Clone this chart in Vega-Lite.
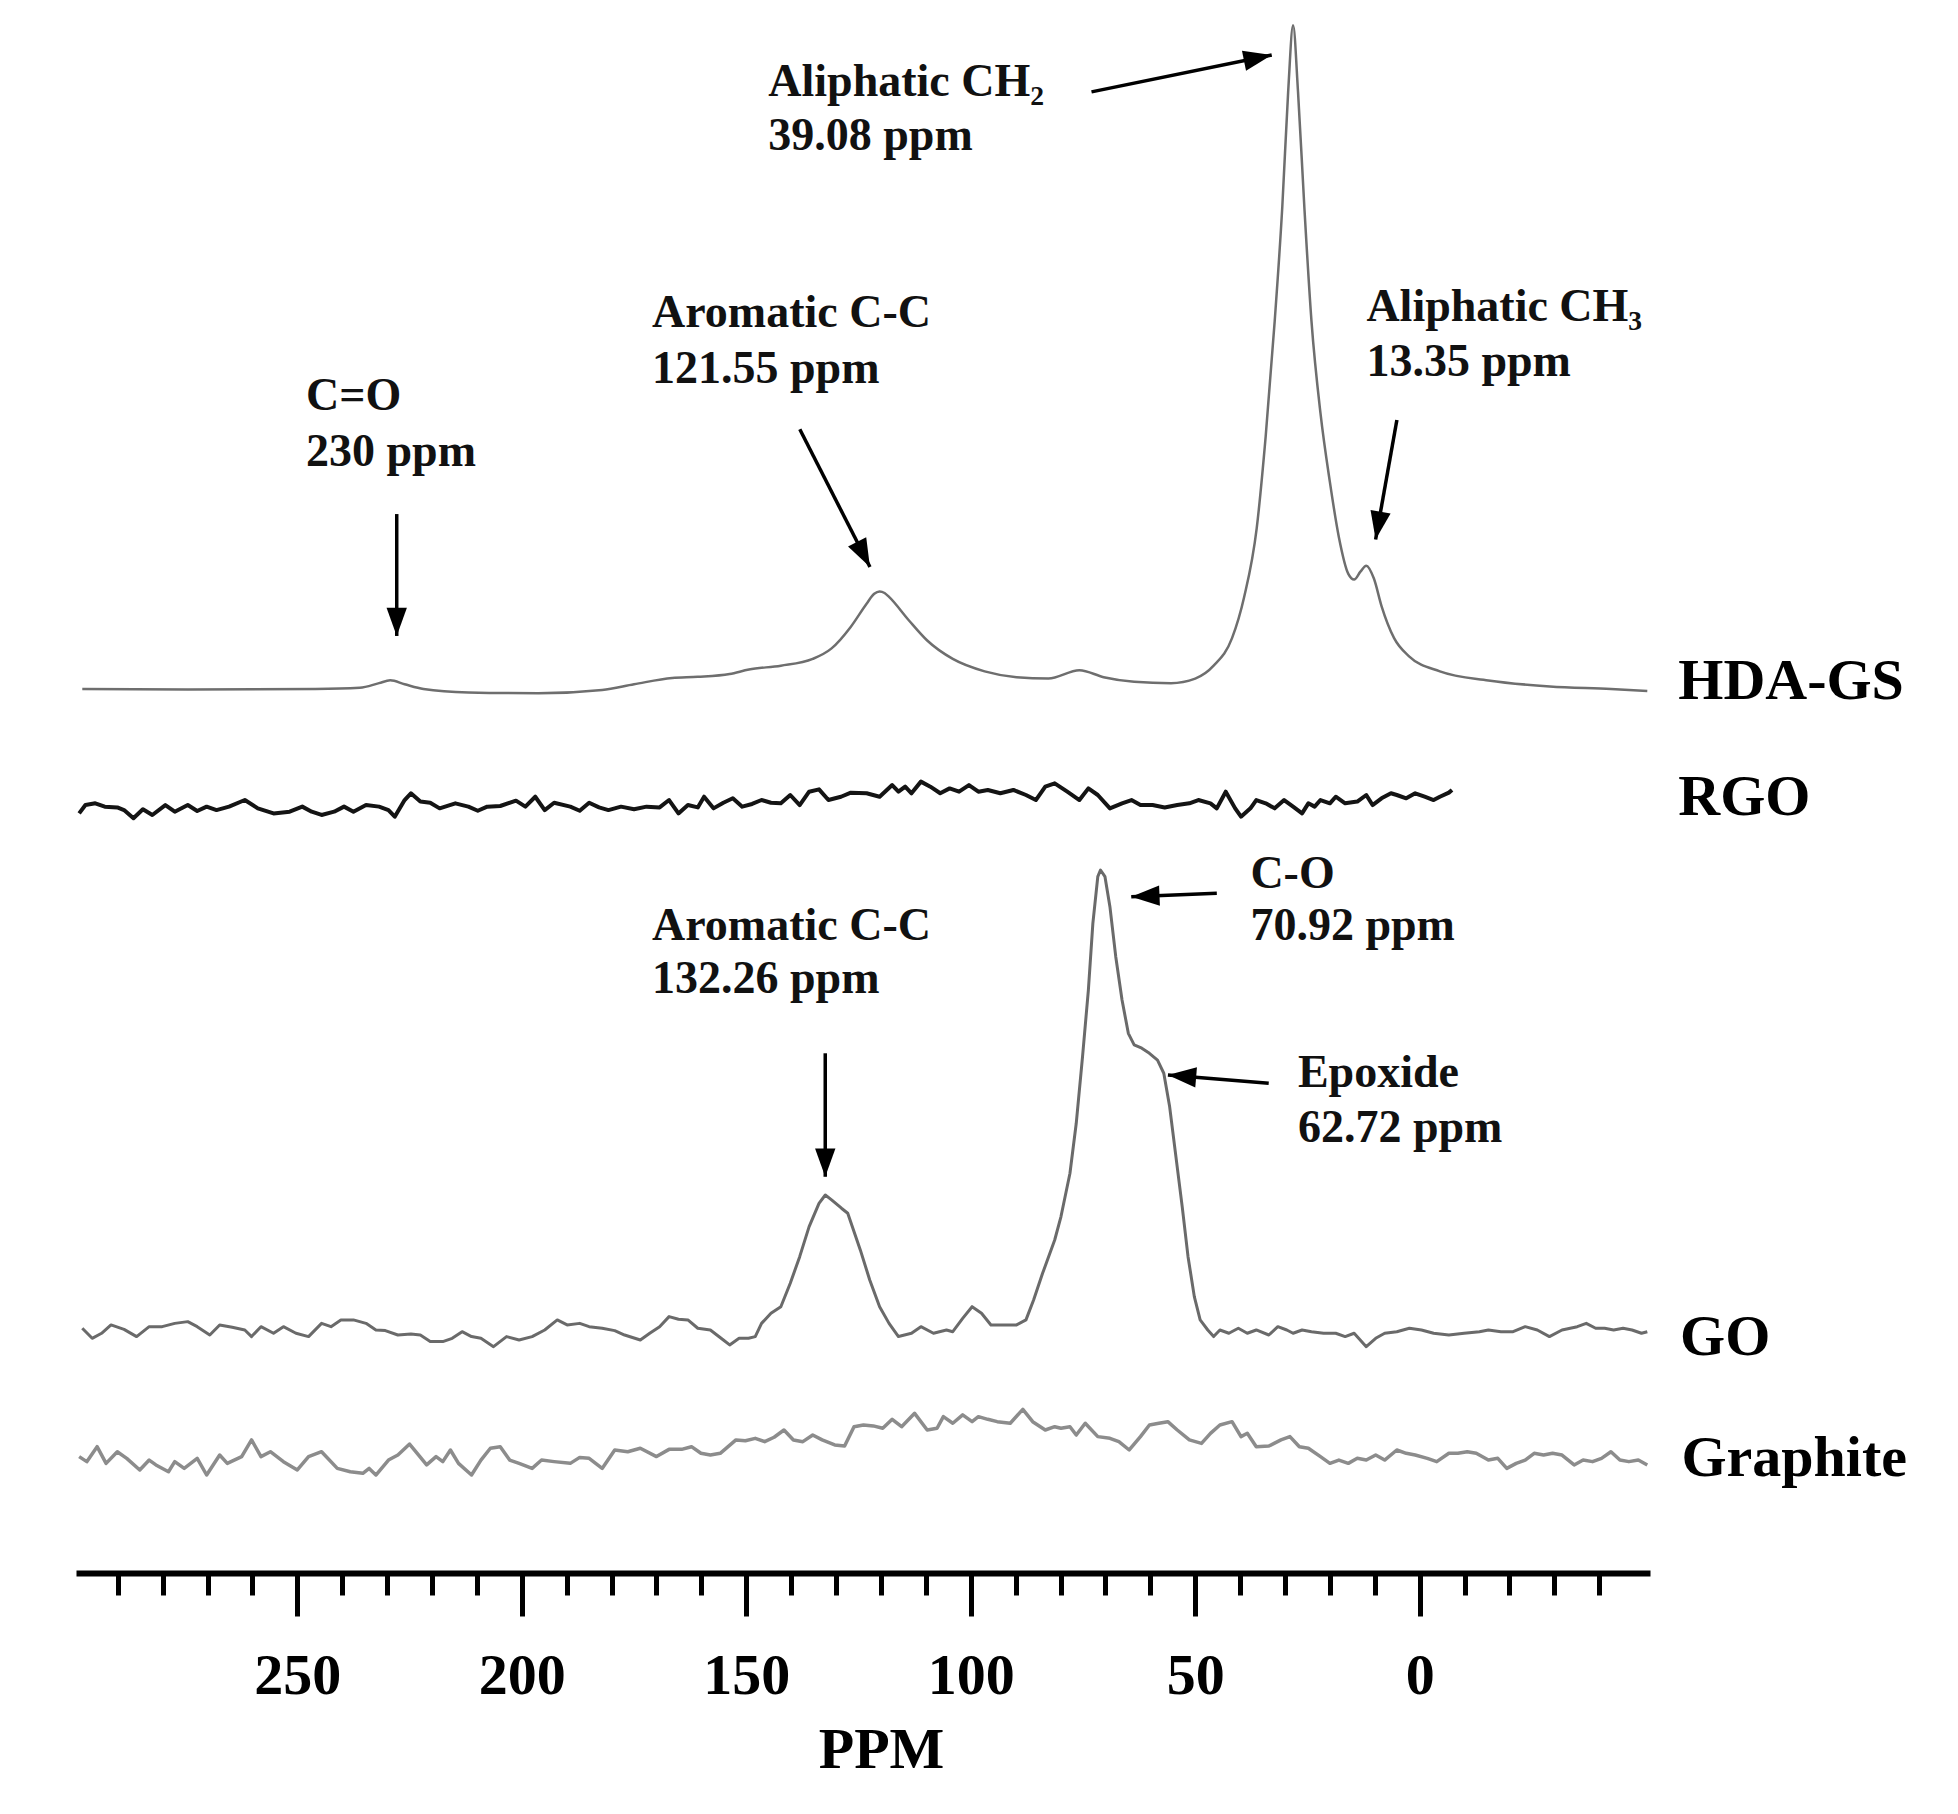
{
  "$schema": "https://vega.github.io/schema/vega-lite/v6.json",
  "width": 1574,
  "height": 1573,
  "autosize": {"type": "none"},
  "padding": {"left": 76, "top": 0, "right": 308, "bottom": 241},
  "background": "white",
  "config": {"view": {"stroke": null}, "font": "Liberation Serif"},
  "datasets": {
    "hda": [
      {"x":297.9,"y":56.2},{"x":274.4,"y":56.16},{"x":246.0,"y":56.2},{"x":236.1,"y":56.28},{"x":231.8,"y":56.57},{"x":229.3,"y":56.75},{"x":226.1,"y":56.5},{"x":221.9,"y":56.2},{"x":211.9,"y":55.98},{"x":196.3,"y":55.93},{"x":182.1,"y":56.14},{"x":175.0,"y":56.5},{"x":166.5,"y":56.9},{"x":160.8,"y":56.97},{"x":153.7,"y":57.15},{"x":149.4,"y":57.44},{"x":142.3,"y":57.68},{"x":135.2,"y":58.11},{"x":131.0,"y":58.78},{"x":126.7,"y":60.16},{"x":123.2,"y":61.62},{"x":121.5,"y":62.25},{"x":120.3,"y":62.4},{"x":119.2,"y":62.3},{"x":118.2,"y":62.05},{"x":113.9,"y":60.6},{"x":109.7,"y":59.28},{"x":104.0,"y":58.11},{"x":96.9,"y":57.32},{"x":89.8,"y":56.95},{"x":82.7,"y":56.86},{"x":75.8,"y":57.39},{"x":70.4,"y":56.95},{"x":63.6,"y":56.66},{"x":55.4,"y":56.57},{"x":50.0,"y":56.86},{"x":45.9,"y":57.68},{"x":41.8,"y":59.43},{"x":39.1,"y":62.05},{"x":36.3,"y":66.43},{"x":34.3,"y":72.27},{"x":32.3,"y":79.57},{"x":30.6,"y":86.87},{"x":29.3,"y":94.16},{"x":28.2,"y":98.39},{"x":27.1,"y":94.16},{"x":25.7,"y":86.87},{"x":24.1,"y":79.57},{"x":22.1,"y":73.73},{"x":20.0,"y":69.35},{"x":18.0,"y":65.85},{"x":15.9,"y":63.52},{"x":14.6,"y":63.16},{"x":13.2,"y":63.66},{"x":11.9,"y":64.04},{"x":10.2,"y":63.22},{"x":8.5,"y":61.47},{"x":5.7,"y":59.43},{"x":2.3,"y":58.26},{"x":-4.5,"y":57.32},{"x":-15.3,"y":56.74},{"x":-29.0,"y":56.36},{"x":-42.6,"y":56.2},{"x":-50.7,"y":56.07}
    ],
    "rgo": [
      {"x":298.6,"y":48.29},{"x":297.2,"y":48.82},{"x":295.0,"y":48.93},{"x":292.9,"y":48.72},{"x":290.1,"y":48.67},{"x":288.6,"y":48.5},{"x":286.5,"y":47.98},{"x":284.4,"y":48.55},{"x":282.3,"y":48.19},{"x":279.4,"y":48.82},{"x":277.3,"y":48.4},{"x":274.4,"y":48.82},{"x":272.3,"y":48.44},{"x":270.2,"y":48.72},{"x":268.0,"y":48.5},{"x":265.2,"y":48.72},{"x":261.7,"y":49.14},{"x":258.8,"y":48.61},{"x":255.3,"y":48.29},{"x":251.7,"y":48.4},{"x":248.9,"y":48.72},{"x":246.8,"y":48.4},{"x":244.6,"y":48.19},{"x":241.8,"y":48.4},{"x":239.6,"y":48.72},{"x":237.5,"y":48.4},{"x":234.7,"y":48.82},{"x":231.8,"y":48.72},{"x":229.7,"y":48.5},{"x":228.3,"y":48.08},{"x":226.1,"y":49.14},{"x":224.7,"y":49.57},{"x":222.6,"y":49.04},{"x":220.4,"y":48.97},{"x":218.3,"y":48.61},{"x":214.8,"y":48.93},{"x":211.9,"y":48.72},{"x":209.8,"y":48.46},{"x":207.7,"y":48.72},{"x":204.8,"y":48.76},{"x":201.3,"y":49.1},{"x":199.2,"y":48.72},{"x":197.0,"y":49.35},{"x":194.9,"y":48.5},{"x":192.8,"y":48.97},{"x":189.2,"y":48.72},{"x":187.1,"y":48.46},{"x":185.0,"y":48.97},{"x":182.8,"y":48.67},{"x":180.7,"y":48.5},{"x":177.9,"y":48.72},{"x":175.0,"y":48.55},{"x":172.2,"y":48.72},{"x":169.3,"y":48.67},{"x":167.2,"y":49.14},{"x":165.1,"y":48.29},{"x":163.0,"y":48.82},{"x":160.8,"y":48.67},{"x":159.4,"y":49.35},{"x":157.3,"y":48.61},{"x":155.1,"y":48.97},{"x":153.0,"y":49.25},{"x":150.9,"y":48.72},{"x":148.7,"y":48.89},{"x":146.6,"y":49.14},{"x":144.5,"y":48.97},{"x":142.3,"y":48.93},{"x":140.2,"y":49.46},{"x":138.1,"y":48.82},{"x":136.0,"y":49.67},{"x":133.8,"y":49.82},{"x":131.7,"y":49.14},{"x":128.9,"y":49.35},{"x":126.7,"y":49.61},{"x":123.2,"y":49.57},{"x":120.3,"y":49.35},{"x":117.5,"y":50.09},{"x":116.1,"y":49.67},{"x":114.6,"y":49.99},{"x":113.2,"y":49.57},{"x":111.1,"y":50.31},{"x":109.0,"y":49.99},{"x":106.8,"y":49.57},{"x":104.7,"y":49.88},{"x":102.6,"y":49.67},{"x":100.4,"y":50.09},{"x":98.3,"y":49.67},{"x":96.2,"y":49.78},{"x":93.4,"y":49.57},{"x":90.5,"y":49.78},{"x":87.7,"y":49.46},{"x":85.5,"y":49.14},{"x":83.4,"y":49.99},{"x":81.3,"y":50.2},{"x":78.5,"y":49.67},{"x":75.8,"y":49.14},{"x":73.8,"y":49.88},{"x":71.7,"y":49.46},{"x":69.0,"y":48.61},{"x":66.3,"y":48.93},{"x":64.2,"y":49.14},{"x":62.2,"y":48.82},{"x":59.5,"y":48.82},{"x":56.8,"y":48.67},{"x":54.0,"y":48.82},{"x":51.3,"y":48.93},{"x":49.3,"y":49.14},{"x":46.6,"y":48.93},{"x":45.2,"y":48.61},{"x":43.2,"y":49.67},{"x":41.1,"y":48.61},{"x":39.8,"y":48.08},{"x":37.7,"y":48.61},{"x":36.4,"y":49.14},{"x":34.3,"y":48.93},{"x":32.3,"y":48.61},{"x":30.2,"y":49.14},{"x":28.2,"y":48.72},{"x":26.2,"y":48.29},{"x":24.8,"y":48.93},{"x":23.4,"y":48.72},{"x":22.1,"y":49.14},{"x":20.0,"y":48.93},{"x":18.7,"y":49.35},{"x":16.6,"y":48.93},{"x":13.9,"y":49.04},{"x":11.9,"y":49.46},{"x":10.5,"y":48.82},{"x":8.5,"y":49.25},{"x":6.4,"y":49.57},{"x":5.1,"y":49.46},{"x":3.0,"y":49.25},{"x":1.0,"y":49.57},{"x":-1.1,"y":49.35},{"x":-3.1,"y":49.14},{"x":-4.5,"y":49.35},{"x":-6.5,"y":49.61},{"x":-7.2,"y":49.78}
    ],
    "go": [
      {"x":297.9,"y":15.56},{"x":295.7,"y":14.92},{"x":293.6,"y":15.24},{"x":291.5,"y":15.77},{"x":288.6,"y":15.49},{"x":285.8,"y":15.03},{"x":283.0,"y":15.66},{"x":280.1,"y":15.66},{"x":277.3,"y":15.87},{"x":274.4,"y":15.98},{"x":272.3,"y":15.66},{"x":269.5,"y":15.13},{"x":267.3,"y":15.77},{"x":264.5,"y":15.62},{"x":261.7,"y":15.45},{"x":260.2,"y":15.03},{"x":258.1,"y":15.66},{"x":255.3,"y":15.24},{"x":253.1,"y":15.66},{"x":250.3,"y":15.24},{"x":247.5,"y":15.03},{"x":244.6,"y":15.87},{"x":242.5,"y":15.66},{"x":240.3,"y":16.09},{"x":237.5,"y":16.09},{"x":234.7,"y":15.87},{"x":232.5,"y":15.45},{"x":230.4,"y":15.41},{"x":227.6,"y":15.13},{"x":224.7,"y":15.2},{"x":222.6,"y":15.13},{"x":220.4,"y":14.71},{"x":217.6,"y":14.71},{"x":215.5,"y":14.92},{"x":213.3,"y":15.34},{"x":211.2,"y":15.03},{"x":209.1,"y":14.92},{"x":206.3,"y":14.39},{"x":203.4,"y":15.03},{"x":200.6,"y":14.81},{"x":197.7,"y":15.03},{"x":194.9,"y":15.45},{"x":192.1,"y":16.09},{"x":189.9,"y":15.77},{"x":187.1,"y":15.87},{"x":185.0,"y":15.66},{"x":182.1,"y":15.56},{"x":179.3,"y":15.41},{"x":177.1,"y":15.13},{"x":173.6,"y":14.81},{"x":171.5,"y":15.24},{"x":169.3,"y":15.66},{"x":167.2,"y":16.3},{"x":165.1,"y":16.13},{"x":163.0,"y":16.09},{"x":160.8,"y":15.56},{"x":158.0,"y":15.45},{"x":155.1,"y":14.81},{"x":153.7,"y":14.5},{"x":151.6,"y":14.92},{"x":149.5,"y":14.92},{"x":148.0,"y":15.03},{"x":146.6,"y":15.87},{"x":144.5,"y":16.51},{"x":142.3,"y":16.93},{"x":140.2,"y":18.42},{"x":138.1,"y":20.11},{"x":136.0,"y":22.02},{"x":133.8,"y":23.5},{"x":132.4,"y":24.03},{"x":131.0,"y":23.72},{"x":128.8,"y":23.19},{"x":127.4,"y":22.87},{"x":124.6,"y":20.54},{"x":122.5,"y":18.63},{"x":120.3,"y":16.93},{"x":118.2,"y":15.87},{"x":116.1,"y":15.03},{"x":113.2,"y":15.24},{"x":111.1,"y":15.66},{"x":108.3,"y":15.24},{"x":105.4,"y":15.45},{"x":104.0,"y":15.34},{"x":101.8,"y":16.19},{"x":99.7,"y":16.93},{"x":97.6,"y":16.51},{"x":95.5,"y":15.77},{"x":92.6,"y":15.77},{"x":89.8,"y":15.77},{"x":87.7,"y":16.09},{"x":86.0,"y":17.36},{"x":84.0,"y":19.05},{"x":81.3,"y":21.17},{"x":79.9,"y":22.66},{"x":77.9,"y":25.41},{"x":76.5,"y":28.59},{"x":75.1,"y":32.83},{"x":73.8,"y":37.06},{"x":72.8,"y":41.3},{"x":71.7,"y":44.27},{"x":71.1,"y":44.69},{"x":70.1,"y":44.27},{"x":69.0,"y":42.36},{"x":67.7,"y":39.18},{"x":66.3,"y":36.43},{"x":64.9,"y":34.31},{"x":63.6,"y":33.57},{"x":61.9,"y":33.36},{"x":60.2,"y":33.04},{"x":58.4,"y":32.61},{"x":57.0,"y":31.77},{"x":55.7,"y":29.65},{"x":54.3,"y":26.47},{"x":52.9,"y":23.29},{"x":51.6,"y":20.11},{"x":50.2,"y":17.57},{"x":48.9,"y":16.09},{"x":47.2,"y":15.45},{"x":45.9,"y":15.03},{"x":44.5,"y":15.45},{"x":42.5,"y":15.24},{"x":40.4,"y":15.56},{"x":38.4,"y":15.24},{"x":36.4,"y":15.45},{"x":33.6,"y":15.13},{"x":31.6,"y":15.66},{"x":29.6,"y":15.45},{"x":28.2,"y":15.24},{"x":26.2,"y":15.45},{"x":24.1,"y":15.34},{"x":21.4,"y":15.24},{"x":18.7,"y":15.24},{"x":16.6,"y":15.03},{"x":14.6,"y":15.24},{"x":11.9,"y":14.39},{"x":9.8,"y":14.92},{"x":7.8,"y":15.24},{"x":5.1,"y":15.34},{"x":2.3,"y":15.56},{"x":-0.4,"y":15.45},{"x":-3.1,"y":15.24},{"x":-6.5,"y":15.13},{"x":-9.9,"y":15.24},{"x":-13.3,"y":15.34},{"x":-15.3,"y":15.45},{"x":-18.1,"y":15.34},{"x":-20.8,"y":15.34},{"x":-23.5,"y":15.66},{"x":-26.2,"y":15.45},{"x":-28.9,"y":15.03},{"x":-31.7,"y":15.45},{"x":-35.1,"y":15.66},{"x":-37.1,"y":15.87},{"x":-39.2,"y":15.56},{"x":-41.2,"y":15.56},{"x":-43.2,"y":15.45},{"x":-45.3,"y":15.56},{"x":-47.3,"y":15.45},{"x":-49.4,"y":15.24},{"x":-50.7,"y":15.34}
    ],
    "graphite": [
      {"x":298.6,"y":7.4},{"x":296.9,"y":7.08},{"x":294.6,"y":8.03},{"x":292.6,"y":6.97},{"x":290.1,"y":7.71},{"x":288.0,"y":7.29},{"x":285.1,"y":6.55},{"x":283.0,"y":7.18},{"x":281.5,"y":6.87},{"x":278.7,"y":6.44},{"x":277.3,"y":7.08},{"x":275.2,"y":6.65},{"x":272.3,"y":7.29},{"x":270.2,"y":6.23},{"x":267.3,"y":7.5},{"x":265.6,"y":6.97},{"x":262.4,"y":7.4},{"x":260.2,"y":8.46},{"x":258.1,"y":7.4},{"x":256.0,"y":7.71},{"x":253.1,"y":7.08},{"x":250.0,"y":6.55},{"x":247.5,"y":7.4},{"x":244.6,"y":7.71},{"x":241.1,"y":6.65},{"x":238.2,"y":6.44},{"x":235.4,"y":6.34},{"x":234.0,"y":6.65},{"x":232.5,"y":6.23},{"x":229.7,"y":7.18},{"x":227.6,"y":7.5},{"x":225.0,"y":8.2},{"x":223.3,"y":7.61},{"x":221.2,"y":6.87},{"x":219.1,"y":7.4},{"x":217.6,"y":7.08},{"x":215.9,"y":7.82},{"x":214.1,"y":6.97},{"x":211.2,"y":6.23},{"x":209.1,"y":7.18},{"x":207.0,"y":7.93},{"x":204.8,"y":8.03},{"x":202.7,"y":7.18},{"x":200.6,"y":6.97},{"x":197.7,"y":6.65},{"x":195.6,"y":7.18},{"x":192.8,"y":7.08},{"x":189.2,"y":6.97},{"x":187.1,"y":7.35},{"x":185.0,"y":7.29},{"x":182.1,"y":6.65},{"x":179.3,"y":7.82},{"x":176.4,"y":7.71},{"x":173.6,"y":7.93},{"x":170.0,"y":7.4},{"x":167.2,"y":7.86},{"x":164.4,"y":7.86},{"x":162.2,"y":8.03},{"x":160.1,"y":7.61},{"x":158.0,"y":7.5},{"x":155.8,"y":7.61},{"x":152.3,"y":8.46},{"x":150.2,"y":8.41},{"x":148.0,"y":8.56},{"x":145.9,"y":8.35},{"x":143.8,"y":8.63},{"x":141.6,"y":9.09},{"x":139.5,"y":8.46},{"x":137.4,"y":8.35},{"x":135.2,"y":8.77},{"x":133.1,"y":8.46},{"x":130.3,"y":8.14},{"x":128.1,"y":8.07},{"x":126.0,"y":9.3},{"x":123.9,"y":9.41},{"x":121.7,"y":9.35},{"x":119.6,"y":9.2},{"x":117.5,"y":9.77},{"x":115.4,"y":9.3},{"x":112.5,"y":10.15},{"x":109.7,"y":9.09},{"x":107.5,"y":9.2},{"x":106.1,"y":9.94},{"x":104.0,"y":9.52},{"x":101.8,"y":10.05},{"x":99.7,"y":9.62},{"x":98.3,"y":9.94},{"x":96.2,"y":9.77},{"x":94.1,"y":9.62},{"x":91.2,"y":9.52},{"x":88.4,"y":10.4},{"x":86.2,"y":9.62},{"x":83.4,"y":9.09},{"x":81.3,"y":9.3},{"x":79.9,"y":9.2},{"x":77.9,"y":9.3},{"x":76.5,"y":8.77},{"x":74.5,"y":9.52},{"x":71.7,"y":8.67},{"x":69.0,"y":8.56},{"x":67.0,"y":8.35},{"x":64.7,"y":7.82},{"x":62.2,"y":8.67},{"x":60.2,"y":9.41},{"x":58.1,"y":9.52},{"x":56.1,"y":9.62},{"x":54.0,"y":9.09},{"x":51.3,"y":8.46},{"x":48.6,"y":8.24},{"x":46.6,"y":8.88},{"x":44.5,"y":9.41},{"x":41.8,"y":9.62},{"x":39.8,"y":8.67},{"x":38.4,"y":8.88},{"x":36.4,"y":8.03},{"x":33.6,"y":8.07},{"x":30.9,"y":8.46},{"x":28.9,"y":8.67},{"x":26.8,"y":8.03},{"x":24.8,"y":7.93},{"x":22.1,"y":7.4},{"x":20.0,"y":6.97},{"x":18.0,"y":7.18},{"x":15.9,"y":6.97},{"x":13.9,"y":7.29},{"x":11.9,"y":7.18},{"x":9.8,"y":7.5},{"x":7.8,"y":7.18},{"x":5.1,"y":7.82},{"x":3.0,"y":7.61},{"x":1.0,"y":7.5},{"x":-1.7,"y":7.29},{"x":-3.8,"y":7.08},{"x":-6.5,"y":7.61},{"x":-8.5,"y":7.61},{"x":-10.6,"y":7.71},{"x":-12.6,"y":7.61},{"x":-15.3,"y":7.18},{"x":-17.4,"y":7.29},{"x":-19.4,"y":6.65},{"x":-21.5,"y":6.97},{"x":-23.5,"y":7.18},{"x":-25.5,"y":7.61},{"x":-27.6,"y":7.5},{"x":-29.6,"y":7.61},{"x":-31.7,"y":7.5},{"x":-34.4,"y":6.87},{"x":-36.4,"y":7.18},{"x":-38.5,"y":7.08},{"x":-40.5,"y":7.29},{"x":-42.6,"y":7.71},{"x":-44.6,"y":7.18},{"x":-46.6,"y":7.08},{"x":-48.7,"y":7.18},{"x":-50.7,"y":6.87}
    ],
    "arrows": [
      {"x":73.1,"y":94.16,"x2":32.96,"y2":96.5,"ang":78.5},
      {"x":138.08,"y":72.71,"x2":122.45,"y2":63.95,"ang":153.0},
      {"x":227.86,"y":67.32,"x2":227.86,"y2":59.57,"ang":180},
      {"x":5.08,"y":73.3,"x2":9.82,"y2":65.7,"ang":190.1},
      {"x":132.41,"y":33.04,"x2":132.41,"y2":25.19,"ang":180},
      {"x":45.19,"y":43.21,"x2":64.25,"y2":42.99,"ang":267.7},
      {"x":33.63,"y":31.13,"x2":56.08,"y2":31.66,"ang":274.7}
    ],
    "notes": [
      {"x":145.1,"y":93.9,"t":"Aliphatic CH₂"},
      {"x":145.1,"y":90.46,"t":"39.08 ppm"},
      {"x":170.99,"y":79.21,"t":"Aromatic C-C"},
      {"x":170.99,"y":75.65,"t":"121.55 ppm"},
      {"x":248.06,"y":73.94,"t":"C=O"},
      {"x":248.06,"y":70.38,"t":"230 ppm"},
      {"x":11.87,"y":79.59,"t":"Aliphatic CH₃"},
      {"x":11.87,"y":76.07,"t":"13.35 ppm"},
      {"x":170.99,"y":40.24,"t":"Aromatic C-C"},
      {"x":170.99,"y":36.87,"t":"132.26 ppm"},
      {"x":37.71,"y":43.55,"t":"C-O"},
      {"x":37.71,"y":40.24,"t":"70.92 ppm"},
      {"x":27.13,"y":30.9,"t":"Epoxide"},
      {"x":27.13,"y":27.4,"t":"62.72 ppm"}
    ],
    "labels": [
      {"x":-57.6,"y":55.56,"t":"HDA-GS"},
      {"x":-57.6,"y":48.19,"t":"RGO"},
      {"x":-58.0,"y":13.86,"t":"GO"},
      {"x":-58.3,"y":6.17,"t":"Graphite"}
    ]
  },
  "layer": [
    {
      "data": {"name": "graphite"},
      "mark": {"type": "line", "color": "#8c8c8c", "strokeWidth": 3.5, "strokeJoin": "round"},
      "encoding": {
        "x": {"field": "x", "type": "quantitative",
          "scale": {"domain": [-51.3, 299.3], "reverse": true, "nice": false, "zero": false},
          "axis": {
            "values": [290,280,270,260,250,240,230,220,210,200,190,180,170,160,150,140,130,120,110,100,90,80,70,60,50,40,30,20,10,0,-10,-20,-30,-40],
            "title": "PPM",
            "grid": false,
            "domainColor": "#000", "domainWidth": 6,
            "tickColor": "#000", "tickWidth": 5,
            "tickSize": {"condition": {"test": "datum.value % 50 === 0", "value": 43}, "value": 22},
            "labelExpr": "datum.value % 50 === 0 ? datum.label : ''",
            "labelFont": "Liberation Serif", "labelFontWeight": "bold", "labelFontSize": 58, "labelColor": "#000",
            "labelBaseline": "alphabetic", "labelPadding": 77,
            "labelOverlap": false, "labelFlush": false, "labelBound": false,
            "titleFont": "Liberation Serif", "titleFontWeight": "bold", "titleFontSize": 58, "titleColor": "#000",
            "titleBaseline": "alphabetic", "titleAlign": "center", "titleX": 805, "titleY": 194
          }
        },
        "y": {"field": "y", "type": "quantitative", "scale": {"domain": [0, 100], "nice": false, "zero": false}, "axis": null}
      }
    },
    {
      "data": {"name": "go"},
      "mark": {"type": "line", "color": "#6a6a6a", "strokeWidth": 3, "strokeJoin": "round"},
      "encoding": {
        "x": {"field": "x", "type": "quantitative"},
        "y": {"field": "y", "type": "quantitative", "axis": null}
      }
    },
    {
      "data": {"name": "rgo"},
      "mark": {"type": "line", "color": "#141414", "strokeWidth": 4, "strokeJoin": "round"},
      "encoding": {
        "x": {"field": "x", "type": "quantitative"},
        "y": {"field": "y", "type": "quantitative", "axis": null}
      }
    },
    {
      "data": {"name": "hda"},
      "mark": {"type": "line", "color": "#6e6e6e", "strokeWidth": 2.5, "strokeJoin": "round", "interpolate": "monotone"},
      "encoding": {
        "x": {"field": "x", "type": "quantitative"},
        "y": {"field": "y", "type": "quantitative", "axis": null}
      }
    },
    {
      "data": {"name": "arrows"},
      "mark": {"type": "rule", "color": "#000", "strokeWidth": 3.5},
      "encoding": {
        "x": {"field": "x", "type": "quantitative"},
        "y": {"field": "y", "type": "quantitative", "axis": null},
        "x2": {"field": "x2"},
        "y2": {"field": "y2"}
      }
    },
    {
      "data": {"name": "arrows"},
      "mark": {"type": "point", "shape": "M0,0L0.72,2L-0.72,2Z", "filled": true, "color": "#000", "opacity": 1, "size": 800, "strokeWidth": 0},
      "encoding": {
        "x": {"field": "x2", "type": "quantitative"},
        "y": {"field": "y2", "type": "quantitative", "axis": null},
        "angle": {"field": "ang", "type": "quantitative", "scale": null}
      }
    },
    {
      "data": {"name": "notes"},
      "mark": {"type": "text", "font": "Liberation Serif", "fontWeight": "bold", "fontSize": 46, "align": "left", "baseline": "alphabetic", "color": "#111"},
      "encoding": {
        "x": {"field": "x", "type": "quantitative"},
        "y": {"field": "y", "type": "quantitative", "axis": null},
        "text": {"field": "t"}
      }
    },
    {
      "data": {"name": "labels"},
      "mark": {"type": "text", "font": "Liberation Serif", "fontWeight": "bold", "fontSize": 58, "align": "left", "baseline": "alphabetic", "color": "#000"},
      "encoding": {
        "x": {"field": "x", "type": "quantitative"},
        "y": {"field": "y", "type": "quantitative", "axis": null},
        "text": {"field": "t"}
      }
    }
  ]
}
